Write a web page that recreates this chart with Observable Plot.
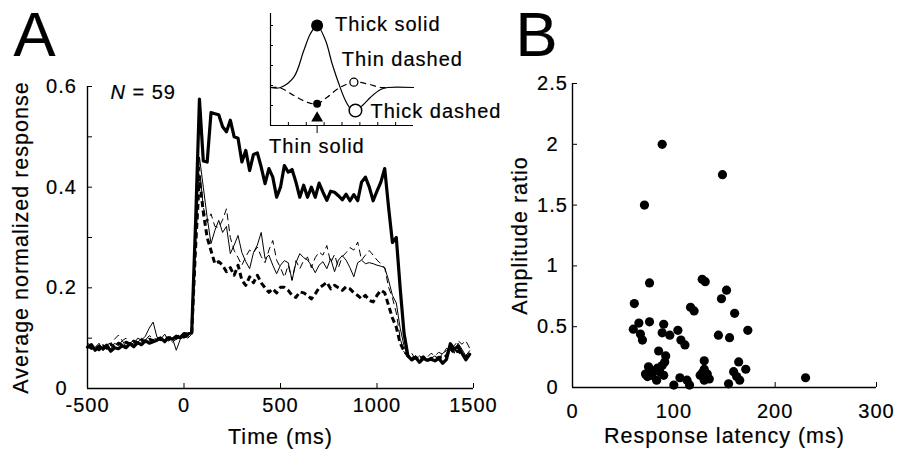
<!DOCTYPE html>
<html><head><meta charset="utf-8">
<script src="https://cdn.jsdelivr.net/npm/d3@7"></script>
<script src="https://cdn.jsdelivr.net/npm/@observablehq/plot@0.6"></script>
<style>
html,body{margin:0;padding:0;background:#fff;}
#wrap{position:relative;width:908px;height:454px;overflow:hidden;background:#fff;}
#wrap > div{position:absolute;top:0;}
#wrap svg text{stroke:#000;stroke-width:0.2px;}
</style></head>
<body><div id="wrap"><div id="pa" style="left:0"></div><div id="pb" style="left:500px"></div><div id="pi" style="left:250px"></div></div>
<script>
// ---------- Panel A data ----------
const times = [-500,-480,-460,-440,-420,-400,-380,-360,-340,-320,-300,-280,-260,-240,-220,-200,-180,-160,-140,-120,
  -100,-80,-60,-40,-20,0,20,40,60,80,100,120,140,160,180,200,220,240,260,280,
  300,320,340,360,380,400,420,440,460,480,500,520,540,560,580,600,620,640,660,680,
  700,720,740,760,780,800,820,840,860,880,900,920,940,960,980,1000,1020,1040,1060,1080,
  1100,1120,1140,1160,1180,1200,1220,1240,1260,1280,1300,1320,1340,1360,1380,1400,1420,1440,1460,1480];
const thickSolid = [.082,.087,.076,.084,.079,.086,.074,.081,.079,.085,.081,.089,.083,.091,.087,.095,.090,.093,.096,.100,
  .093,.101,.098,.104,.101,.109,.108,.112,.33,.575,.452,.45,.548,.546,.544,.52,.51,.533,.50,.497,
  .45,.473,.433,.465,.468,.44,.407,.437,.42,.38,.40,.443,.43,.435,.41,.38,.404,.38,.40,.38,
  .408,.39,.374,.392,.39,.383,.375,.386,.373,.385,.373,.41,.42,.40,.373,.392,.41,.437,.36,.29,
  .30,.20,.11,.065,.057,.062,.052,.06,.056,.058,.055,.06,.05,.058,.089,.078,.084,.07,.057,.068];
const thinSolid = [.085,.078,.082,.09,.075,.083,.078,.09,.085,.095,.083,.092,.088,.1,.096,.104,.12,.132,.102,.098,
  .108,.094,.1,.076,.097,.105,.1,.108,.3,.46,.40,.34,.288,.314,.334,.31,.322,.268,.285,.304,
  .27,.252,.238,.27,.285,.31,.258,.265,.245,.228,.245,.254,.25,.215,.25,.268,.26,.255,.245,.23,
  .245,.252,.238,.258,.232,.255,.264,.255,.24,.222,.25,.255,.248,.25,.248,.245,.243,.24,.215,.185,
  .17,.12,.085,.062,.06,.065,.055,.062,.058,.06,.065,.058,.07,.075,.085,.07,.09,.078,.065,.075];
const thinDashed = [.09,.085,.08,.075,.083,.087,.09,.098,.106,.095,.1,.09,.096,.092,.1,.096,.105,.1,.098,.104,
  .096,.1,.092,.098,.102,.1,.104,.11,.28,.44,.36,.33,.347,.322,.32,.335,.357,.3,.274,.26,
  .245,.262,.275,.27,.281,.262,.25,.275,.294,.255,.24,.221,.245,.215,.254,.238,.254,.261,.24,.26,
  .271,.265,.284,.25,.266,.24,.262,.27,.28,.275,.291,.255,.265,.274,.265,.255,.248,.24,.201,.18,
  .15,.1,.072,.065,.07,.058,.065,.06,.062,.07,.065,.072,.068,.08,.075,.085,.095,.088,.095,.08];
const thickDashed = [.085,.08,.083,.077,.085,.08,.088,.082,.09,.086,.092,.088,.094,.09,.096,.093,.098,.095,.1,.097,
  .102,.099,.103,.1,.105,.103,.106,.11,.28,.42,.35,.3,.274,.248,.252,.245,.232,.24,.225,.245,
  .215,.205,.222,.21,.225,.21,.2,.191,.198,.19,.201,.201,.195,.185,.181,.192,.19,.185,.178,.188,
  .2,.205,.211,.198,.205,.2,.195,.202,.198,.19,.185,.178,.185,.175,.172,.185,.195,.19,.165,.14,
  .122,.09,.075,.065,.06,.062,.057,.063,.055,.06,.058,.062,.06,.065,.08,.07,.075,.068,.062,.072];
const xDomainA = [-500, 1500];
const yDomainA = [0, 0.6];
const xTicksA = [-500, 0, 500, 1000, 1500];
const xTickLabelsA = ["-500", "0", "500", "1000", "1500"];
const yTicksA = [0, 0.2, 0.4, 0.6];
const yTickLabelsA = ["0", "0.2", "0.4", "0.6"];
const yMinorTicksA = [0, 0.1, 0.2, 0.3, 0.4, 0.5, 0.6];
const xLabelA = "Time (ms)";
const yLabelA = "Average normalized response";

// ---------- Inset (schematic) data ----------
const insetSolidX = [0, 0.7, 1.63, 2.33, 2.8, 3.26, 3.85, 4.31, 4.78, 5.24, 5.6, 5.94, 6.5, 7.0, 7.7, 8.2, 10];
const insetSolidY = [0, 0, 1.03, 3.7, 5.4, 6.2, 4.7, 2.37, 0.37, -1.3, -2.1, -2.3, -1.7, -0.97, -0.2, 0, 0];
const insetDashedX = [0, 0.7, 1.63, 2.56, 3.26, 3.96, 4.89, 5.83, 6.76, 7.7, 8.2];
const insetDashedY = [0, -0.05, -0.8, -1.47, -1.63, -0.97, 0.03, 0.53, 0.37, 0, 0];
const insetNames = ["Thick solid", "Thin dashed", "Thick dashed", "Thin solid"];
const insetXDomain = [0, 10];
const insetYDomain = [-3.8, 7.4];
const insetXTicks = [1.25, 2.5, 3.75, 5, 6.25, 7.5, 8.75];
const insetYTicks = [-1.8, 0.2, 2.2, 4.2, 6.2];

// ---------- Panel B data ----------
const latency = [88.5,148,71,76,61,128,131,152,147,116.5,120,160,173,60,65.5,76,67,69,90,88.5,
  96,104,107,111,144,155,85,92,91,75,74,81,88.5,90,83,76,100,106,113,115.5,
  130,130,126,132,135,130,154,164,171,159,165,230,78,86,128,162,72,84,133];
const ampRatio = [2.0,1.75,1.5,0.86,0.69,0.89,0.87,0.80,0.73,0.66,0.63,0.61,0.47,0.48,0.53,0.54,0.44,0.39,0.52,0.45,
  0.43,0.47,0.39,0.35,0.43,0.41,0.30,0.26,0.21,0.17,0.09,0.14,0.18,0.10,0.06,0.15,0.02,0.08,0.06,0.02,
  0.22,0.15,0.10,0.08,0.07,0.06,0.03,0.21,0.15,0.13,0.06,0.08,0.10,0.13,0.12,0.09,0.11,0.16,0.11];
const xDomainB = [0, 300];
const yDomainB = [0, 2.5];
const xTicksB = [0, 100, 200, 300];
const xTickLabelsB = ["0", "100", "200", "300"];
const yTicksB = [0, 0.5, 1, 1.5, 2, 2.5];
const yTickLabelsB = ["0", "0.5", "1", "1.5", "2", "2.5"];
const xLabelB = "Response latency (ms)";
const yLabelB = "Amplitude ratio";
const nLabel = ["N", "= 59"];
const panelLetters = ["A", "B"];

// ---------- build ----------
const FONT = "'Liberation Sans', Arial, Helvetica, sans-serif";
const svgStyle = `background: transparent; overflow: visible; font-family: ${FONT}; letter-spacing: 1px; color: black;`;
const rows = (vals) => times.map((t, i) => ({t, v: vals[i]}));
const fmt = (ticks, labels) => (d) => labels[ticks.indexOf(d)];
const LABEL = 21.5, TICK = 20;

const A = Plot.plot({
  width: 500, height: 454,
  marginLeft: 87, marginRight: 27, marginTop: 86, marginBottom: 66,
  x: {domain: xDomainA}, y: {domain: yDomainA},
  style: svgStyle,
  marks: [
    Plot.ruleX([xDomainA[0]], {stroke: "black", strokeWidth: 1.4}),
    Plot.ruleY([yDomainA[0]], {stroke: "black", strokeWidth: 1.4}),
    Plot.axisY({ticks: yMinorTicksA, tickSize: -5, tickFormat: () => "", label: null}),
    Plot.axisY({ticks: yTicksA, tickSize: 0, tickPadding: 26, textAnchor: "middle", fontSize: TICK, tickFormat: fmt(yTicksA, yTickLabelsA), label: null}),
    Plot.axisX({ticks: xTicksA, tickSize: -5, tickFormat: () => "", label: null}),
    Plot.axisX({ticks: xTicksA, tickSize: 0, tickPadding: 9, fontSize: TICK, tickFormat: fmt(xTicksA, xTickLabelsA), label: null}),
    Plot.line(rows(thinDashed), {x: "t", y: "v", stroke: "black", strokeWidth: 1, strokeDasharray: "7,4", strokeLinecap: "butt"}),
    Plot.line(rows(thinSolid), {x: "t", y: "v", stroke: "black", strokeWidth: 1}),
    Plot.line(rows(thickDashed), {x: "t", y: "v", stroke: "black", strokeWidth: 3, strokeDasharray: "6,3.5", strokeLinecap: "butt"}),
    Plot.line(rows(thickSolid), {x: "t", y: "v", stroke: "black", strokeWidth: 3.2}),
    Plot.text([yLabelA], {frameAnchor: "left", rotate: -90, dx: -66, fontSize: LABEL, textAnchor: "middle", lineAnchor: "middle", fill: "black"}),
    Plot.text([xLabelA], {frameAnchor: "bottom", dy: 49, fontSize: LABEL, textAnchor: "middle", lineAnchor: "middle", fill: "black"}),
    Plot.text([nLabel[0]], {frameAnchor: "top-left", dx: 23, dy: 6, fontSize: 20, fontStyle: "italic", textAnchor: "start", lineAnchor: "middle", fill: "black"}),
    Plot.text([nLabel[1]], {frameAnchor: "top-left", dx: 45, dy: 6, fontSize: 20, textAnchor: "start", lineAnchor: "middle", fill: "black"}),
    Plot.text([panelLetters[0]], {frameAnchor: "top-left", dx: -74, dy: -31, fontSize: 63, textAnchor: "start", lineAnchor: "bottom", fill: "black"})
  ]
});
document.getElementById("pa").appendChild(A);

const pts = latency.map((x, i) => ({x, y: ampRatio[i]}));
const B = Plot.plot({
  width: 408, height: 454,
  marginLeft: 72, marginRight: 32, marginTop: 83, marginBottom: 67,
  x: {domain: xDomainB}, y: {domain: yDomainB},
  style: svgStyle,
  marks: [
    Plot.ruleX([xDomainB[0]], {stroke: "black", strokeWidth: 1.4}),
    Plot.ruleY([yDomainB[0]], {stroke: "black", strokeWidth: 1.4}),
    Plot.axisY({ticks: yTicksB, tickSize: -5, tickFormat: () => "", label: null}),
    Plot.axisY({ticks: yTicksB, tickSize: 0, tickPadding: 20, textAnchor: "middle", fontSize: TICK, tickFormat: fmt(yTicksB, yTickLabelsB), label: null}),
    Plot.axisX({ticks: xTicksB, tickSize: -5, tickFormat: () => "", label: null}),
    Plot.axisX({ticks: xTicksB, tickSize: 0, tickPadding: 16, fontSize: TICK, tickFormat: fmt(xTicksB, xTickLabelsB), label: null}),
    Plot.dot(pts, {x: "x", y: "y", r: 4.6, fill: "black", stroke: "none"}),
    Plot.text([yLabelB], {frameAnchor: "left", rotate: -90, dx: -52, fontSize: LABEL, textAnchor: "middle", lineAnchor: "middle", fill: "black"}),
    Plot.text([xLabelB], {frameAnchor: "bottom", dy: 49, fontSize: LABEL, textAnchor: "middle", lineAnchor: "middle", fill: "black"}),
    Plot.text([panelLetters[1]], {frameAnchor: "top-left", dx: -57, dy: -28, fontSize: 63, textAnchor: "start", lineAnchor: "bottom", fill: "black"})
  ]
});
document.getElementById("pb").appendChild(B);

const solidRows = insetSolidX.map((x, i) => ({x, y: insetSolidY[i]}));
const dashedRows = insetDashedX.map((x, i) => ({x, y: insetDashedY[i]}));
const peak = solidRows[5], trough = solidRows[11];
const dTrough = dashedRows[4], dPeak = dashedRows[7];
const I = Plot.plot({
  width: 270, height: 160,
  marginLeft: 20, marginRight: 107, marginTop: 13, marginBottom: 35,
  x: {domain: insetXDomain}, y: {domain: insetYDomain},
  style: svgStyle,
  marks: [
    Plot.ruleX([insetXDomain[0]], {stroke: "black", strokeWidth: 1.2}),
    Plot.ruleY([insetYDomain[0]], {stroke: "black", strokeWidth: 1.2}),
    Plot.axisX({ticks: insetXTicks, tickSize: -3, tickFormat: () => "", label: null}),
    Plot.axisY({ticks: insetYTicks, tickSize: -3, tickFormat: () => "", label: null}),
    Plot.line(solidRows, {x: "x", y: "y", curve: "catmull-rom", stroke: "black", strokeWidth: 1.2}),
    Plot.line(dashedRows, {x: "x", y: "y", curve: "catmull-rom", stroke: "black", strokeWidth: 1.2, strokeDasharray: "6,4", strokeLinecap: "butt"}),
    Plot.dot([peak], {x: "x", y: "y", r: 6, fill: "black"}),
    Plot.dot([dTrough], {x: "x", y: "y", r: 4, fill: "black"}),
    Plot.dot([dPeak], {x: "x", y: "y", r: 4, fill: "white", stroke: "black", strokeWidth: 1.3}),
    Plot.dot([trough], {x: "x", y: "y", r: 6.3, fill: "white", stroke: "black", strokeWidth: 1.5}),
    Plot.ruleX([peak.x], {y1: insetYDomain[0], y2: -4.6, stroke: "black", strokeWidth: 1}),
    Plot.dot([peak.x], {x: d => d, y: -3.05, symbol: "triangle", r: 4.4, fill: "black"}),
    Plot.text([insetNames[0]], {x: peak.x, y: peak.y, dx: 18, dy: -1, fontSize: 20, textAnchor: "start", lineAnchor: "middle", fill: "black"}),
    Plot.text([insetNames[1]], {x: dPeak.x, y: dPeak.y, dx: -12, dy: -23, fontSize: 20, textAnchor: "start", lineAnchor: "middle", fill: "black"}),
    Plot.text([insetNames[2]], {x: trough.x, y: trough.y, dx: 15, dy: 1, fontSize: 20, textAnchor: "start", lineAnchor: "middle", fill: "black"}),
    Plot.text([insetNames[3]], {x: peak.x, y: insetYDomain[0], dx: -48, dy: 21, fontSize: 20, textAnchor: "start", lineAnchor: "middle", fill: "black"})
  ]
});
document.getElementById("pi").appendChild(I);
</script>
</body></html>
